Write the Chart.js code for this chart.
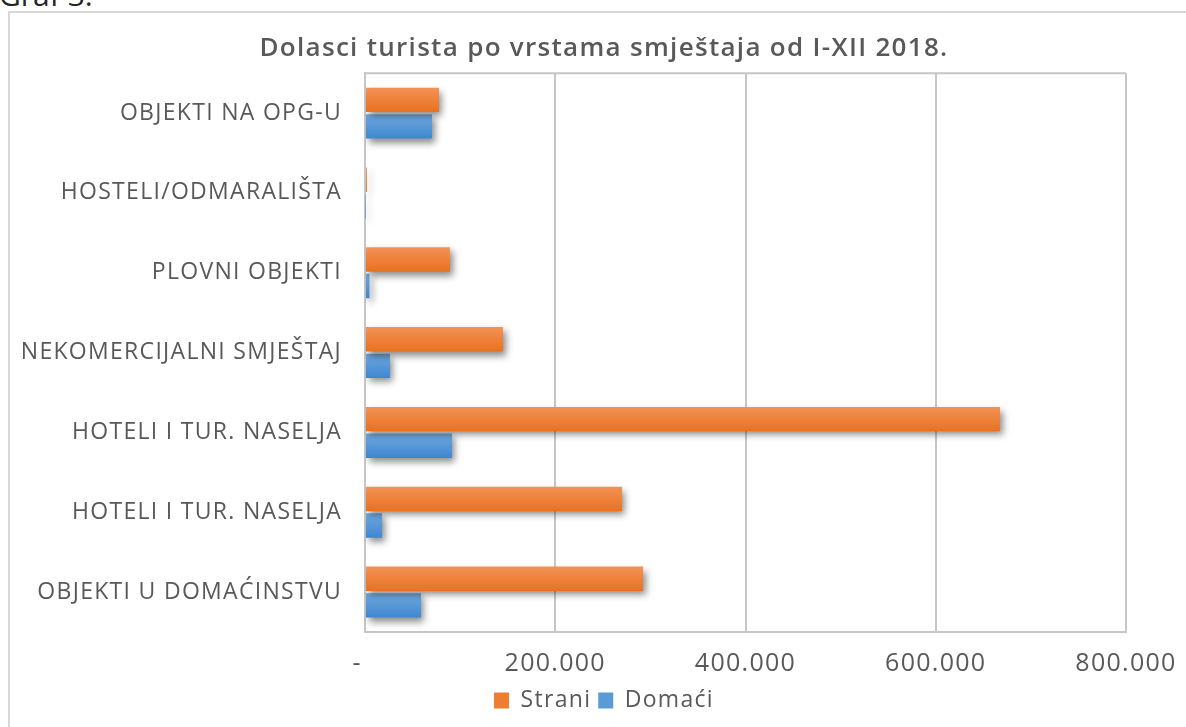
<!DOCTYPE html>
<html>
<head>
<meta charset="utf-8">
<script src="https://cdn.jsdelivr.net/npm/chart.js@4/dist/chart.umd.min.js"></script>
<style>
  html, body { margin: 0; padding: 0; background: #fff; overflow: hidden; }
  body { width: 1186px; height: 727px; position: relative; }
  #frame { position: absolute; left: 8px; top: 11px; width: 1200px; height: 800px; border: 2px solid #d9d9d9; box-sizing: border-box; }
  #graf { position: absolute; left: -1px; top: -26px; font-family: 'Open Sans', sans-serif; font-size: 30px; color: #262626; white-space: nowrap; }
  #wrap { position: absolute; left: 0; top: 0; width: 1186px; height: 727px; }
</style>
</head>
<body>
<div id="graf">Graf 3.</div>
<div id="frame"></div>
<div id="wrap"><canvas id="c" width="1186" height="727"></canvas></div>
<script>
const categories = [
  'OBJEKTI NA OPG-U',
  'HOSTELI/ODMARALIŠTA',
  'PLOVNI OBJEKTI',
  'NEKOMERCIJALNI SMJEŠTAJ',
  'HOTELI I TUR. NASELJA',
  'HOTELI I TUR. NASELJA',
  'OBJEKTI U DOMAĆINSTVU'
];
const strani = [77800, 2000, 89300, 145000, 667500, 270200, 292200];
const domaci = [70400, 400, 4700, 26300, 91500, 17900, 58900];
const seriesNames = ['Strani', 'Domaći'];
const xTickValues = [0, 200000, 400000, 600000, 800000];
const titleText = 'Dolasci turista po vrstama smještaja od I-XII 2018.';

const FONT = "'Open Sans', sans-serif";
const TXT = '#595959';
const GRID = '#c6c6c6';
const LS = '1.3px';

const gradStops = {
  Strani: ['#F39256', '#E8711F'],
  'Domaći': ['#70A9DE', '#3F86CF']
};

const fx = {
  id: 'fx',
  beforeUpdate(chart) { chart.ctx.letterSpacing = LS; },
  beforeDraw(chart) {
    chart.ctx.letterSpacing = LS;
    if (chart.scales.y) chart.scales.y._computeLabelArea = () => null;
  },
  beforeDatasetDraw(chart, args) {
    const ctx = chart.ctx;
    const ds = chart.data.datasets[args.index];
    const stops = gradStops[ds.label];
    args.meta.data.forEach(el => {
      const top = el.y - el.height / 2, bot = el.y + el.height / 2;
      const g = ctx.createLinearGradient(0, top, 0, bot);
      g.addColorStop(0, stops[0]);
      g.addColorStop(1, stops[1]);
      el.options = Object.assign({}, el.options, { backgroundColor: g });
    });
    ctx.save();
    ctx.shadowColor = 'rgba(0,0,0,0.45)';
    ctx.shadowBlur = 7;
    ctx.shadowOffsetX = 3;
    ctx.shadowOffsetY = 4;
  },
  afterDatasetDraw(chart) { chart.ctx.restore(); },
  beforeDatasetsDraw(chart) {
    const a = chart.chartArea, ctx = chart.ctx;
    ctx.save();
    ctx.strokeStyle = GRID;
    ctx.lineWidth = 2;
    ctx.beginPath();
    ctx.moveTo(a.left, a.top);
    ctx.lineTo(a.right, a.top);
    ctx.stroke();
    ctx.restore();
  }
};

new Chart(document.getElementById('c'), {
  type: 'bar',
  data: {
    labels: categories,
    datasets: [
      { label: seriesNames[0], data: strani, backgroundColor: '#ED7D31',
        categoryPercentage: 0.665, barPercentage: 0.92 },
      { label: seriesNames[1], data: domaci, backgroundColor: '#5B9BD5',
        categoryPercentage: 0.665, barPercentage: 0.92 }
    ]
  },
  options: {
    indexAxis: 'y',
    responsive: false,
    animation: false,
    events: [],
    layout: { padding: { left: 82, right: 60, top: 20, bottom: 5 } },
    plugins: {
      title: {
        display: true, text: titleText, color: TXT,
        font: { family: FONT, size: 26, weight: '600' },
        padding: { top: 13, bottom: 9 }
      },
      legend: {
        display: true, position: 'bottom',
        labels: {
          color: TXT, font: { family: FONT, size: 23 },
          boxWidth: 15, boxHeight: 16, padding: 7,
          generateLabels(chart) {
            return chart.data.datasets.map((d, i) => ({
              text: d.label, fillStyle: d.backgroundColor, strokeStyle: d.backgroundColor,
              lineWidth: 0, hidden: false, datasetIndex: i, fontColor: TXT
            }));
          }
        }
      },
      tooltip: { enabled: false }
    },
    scales: {
      x: {
        min: 0, max: 800000,
        afterBuildTicks(scale) { scale.ticks = xTickValues.map(v => ({ value: v })); },
        afterFit(scale) { scale.height = 50; scale.paddingLeft = 0; scale.paddingRight = 0; },
        ticks: {
          color: TXT, font: { family: FONT, size: 25 }, padding: 17,
          callback(v) { return v === 0 ? '-  ' : v.toLocaleString('de-DE'); }
        },
        grid: { color: GRID, lineWidth: 2, drawTicks: false },
        border: { color: GRID, width: 2 }
      },
      y: {
        afterFit(scale) { scale.width = 283; },
        ticks: { color: TXT, font: { family: FONT, size: 23 }, padding: 23 },
        grid: { display: false, drawTicks: false },
        border: { color: GRID, width: 2 }
      }
    }
  },
  plugins: [fx]
});
</script>
</body>
</html>
